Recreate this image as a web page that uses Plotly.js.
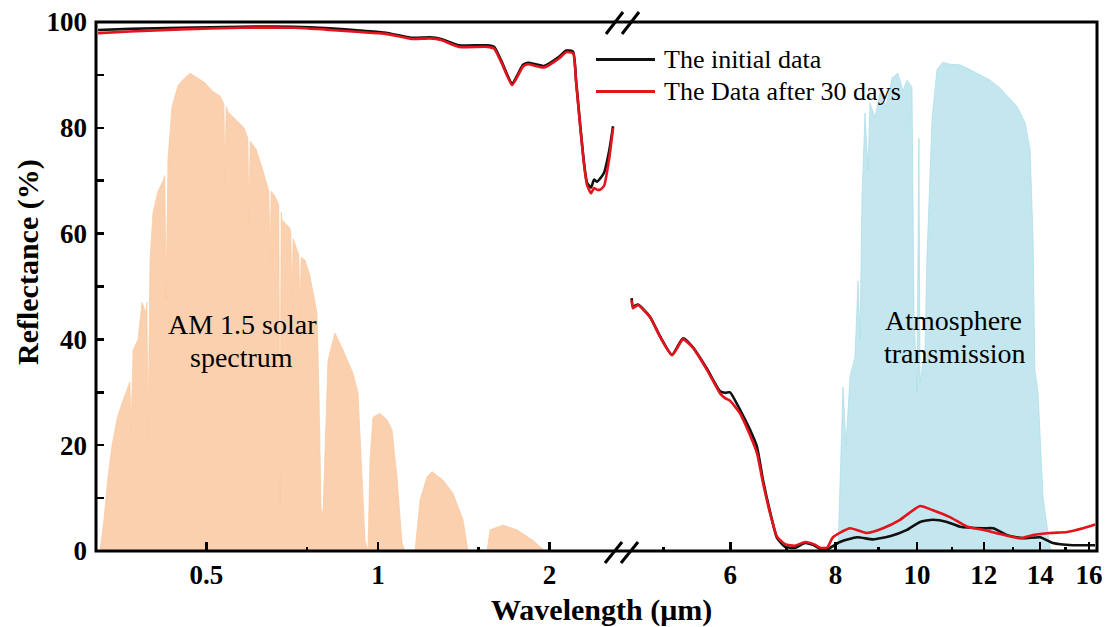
<!DOCTYPE html>
<html>
<head>
<meta charset="utf-8">
<script src="https://cdn.plot.ly/plotly-3.0.1.min.js"></script>
<style>
  html, body { margin: 0; padding: 0; background: #ffffff; }
  #chart { width: 1118px; height: 627px; }
</style>
</head>
<body>
<div id="chart"></div>
<script>
// ---------- Data ----------
// AM 1.5 solar spectrum (normalised, drawn on the short-wave log axis)
const solarWl = [0.3253,0.3306,0.3360,0.3415,0.3485,0.3556,0.3643,0.3670,0.3688,0.3706,0.3718,0.3793,0.3855,0.3918,0.3931,0.3950,0.3969,0.3981,0.4030,0.4112,0.4196,0.4226,0.4247,0.4268,0.4281,0.4351,0.4458,0.4586,0.4679,0.4814,0.4972,0.5114,0.5283,0.5365,0.5390,0.5416,0.5456,0.5635,0.5820,0.5911,0.5939,0.5967,0.6109,0.6259,0.6413,0.6434,0.6465,0.6496,0.6596,0.6698,0.6730,0.6763,0.6785,0.7007,0.7030,0.7064,0.7098,0.7208,0.7262,0.7296,0.7331,0.7445,0.7597,0.7690,0.7815,0.7878,0.7943,0.8008,0.8073,0.8171,0.8405,0.8681,0.9040,0.9224,0.9375,0.9488,0.9604,0.9682,0.9800,1.0081,1.0370,1.0582,1.0798,1.1018,1.1152,1.1612,1.1850,1.2189,1.2438,1.3003,1.3539,1.4097,1.4384,1.5535,1.5724,1.6241,1.6573,1.7537,1.8704,1.9634];
const solarVal = [0,6,14,20,25,28,31,32,23,33,38,40,47,45,47,21.5,50,55,64,68,70,71,47.4,72,74,84,88,89.5,90.3,89.5,88.5,87,86,84.5,70,84,83,81.5,80,78,62,77.5,76,72.5,68.5,68,55,68,67,65.5,8.3,64,62.6,61,60,48,59,57,56,44,55.5,55,52,49,45,30,8,7,20,36,41.2,38,33.6,29.9,14,2,0,17.2,25.3,26,24.8,22.9,14,1.5,0,0,9.6,14,15,13.4,10.9,5.9,0,0,4,4.5,4.9,4,2,0];

// Atmospheric transmission (drawn on the long-wave log axis)
const atmWl = [8.054,8.166,8.234,8.324,8.438,8.508,8.555,8.602,8.673,8.745,8.79,8.913,9.035,9.184,9.337,9.49,9.622,9.727,9.861,9.915,9.996,10.05,10.08,10.22,10.27,10.42,10.56,10.73,10.94,11.25,11.556,11.877,12.21,12.548,12.895,13.15,13.44,13.62,13.73,13.8,13.92,14.11,14.38,14.46];
const atmVal = [0,31,20,33,36.7,51,40,67,82.8,72,84.7,82,86.6,84,89.4,90.3,87,89,87.7,45,30,78,32,38,55,82,91,92.4,92,91.9,91,90,89,87.5,85.5,84,80.9,75.8,59.4,34.2,30,10.2,0.8,0];

// Reflectance, UV-Vis-NIR part
const visWl = [0.3228,0.3673,0.4493,0.575,0.7122,0.8237,0.9298,1.0245,1.0973,1.1471,1.2337,1.2897,1.3873,1.5535,1.5982,1.6439,1.719,1.7966,1.8333,1.9557,2.0776,2.1374,2.1988,2.2258,2.2621,2.2989,2.3267,2.3645,2.3932,2.4226,2.4523,2.4922,2.5431,2.5845];
const visInitial = [98.5,98.7,98.9,99.1,99.1,98.8,98.4,98.0,97.4,97.0,97.1,96.8,95.6,95.6,95.3,92.8,88.4,91.9,92.3,91.7,93.4,94.6,94.4,89.0,80.8,73.3,69.6,68.7,70.2,69.8,70.4,71.5,75.5,80.3];
const visAfter30 = [97.9,98.2,98.6,98.9,98.9,98.5,98.1,97.8,97.2,96.8,96.9,96.6,95.3,95.3,95.0,92.5,88.1,91.6,92.0,91.4,93.1,94.3,94.1,88.7,80.5,73.0,69.2,67.6,68.6,68.3,68.3,69.0,74.0,80.0];

// Reflectance, mid-IR part
const irWlInitial = [4.581,4.598,4.661,4.817,4.951,5.116,5.272,5.418,5.631,5.834,5.915,5.995,6.162,6.333,6.454,6.561,6.687,6.817,6.967,7.161,7.362,7.561,7.666,7.816,8.097,8.484,8.865,9.285,9.727,10.08,10.44,10.85,11.25,11.97,12.31,12.79,13.36,14.0,14.5,15.31,16.27];
const irInitial = [47.8,46.2,46.6,44.3,40.6,37.1,40.2,38.5,34.4,30.2,29.9,30.0,26.7,22.9,19.7,13.4,7.5,2.5,0.8,0.6,1.5,1.0,0.4,0.3,1.7,2.6,2.2,2.8,4.0,5.5,5.9,5.5,4.6,4.3,4.3,3.0,2.4,2.6,1.5,1.1,1.1];
const irWlAfter30 = [4.581,4.598,4.661,4.817,4.951,5.116,5.272,5.418,5.631,5.834,5.915,5.995,6.162,6.333,6.454,6.561,6.687,6.817,6.967,7.161,7.362,7.561,7.666,7.816,7.945,8.324,8.72,9.109,9.543,10.08,10.44,10.94,11.47,11.97,12.55,13.25,13.73,14.38,15.07,15.74,16.27];
const irAfter30 = [47.4,45.9,46.5,44.2,40.5,37.0,40.0,38.4,34.2,29.8,28.9,28.4,26.0,21.9,18.5,12.9,7.2,2.7,1.3,1.0,1.7,1.2,0.6,0.6,2.6,4.3,3.4,4.3,5.9,8.5,7.7,6.4,4.6,4.0,3.2,2.4,3.0,3.4,3.6,4.3,5.0];

// Tick labels
const yTicks = [0,20,40,60,80,100];
const yMinor = [10,30,50,70,90];
const xLeftTicks = [0.5,1,2];
const xLeftTickText = ['0.5','1','2'];
const xLeftMinor = [0.75,1.5];
const xRightTicks = [6,8,10,12,14,16];
const xRightTickText = ['6','8','10','12','14','16'];
const xRightMinor = [5,7,9,11,13,15];

const seriesNames = ['The initial data', 'The Data after 30 days'];

// ---------- Styling ----------
const SERIF = 'Liberation Serif, Times New Roman, serif';
const BLACK = '#111111';
const RED = '#e3141b';

const traces = [
  {x: solarWl, y: solarVal, xaxis: 'x', yaxis: 'y', type: 'scatter', mode: 'lines',
   fill: 'tozeroy', fillcolor: 'rgba(249,192,146,0.74)',
   line: {color: 'rgba(250,200,160,0.9)', width: 0.8}, hoverinfo: 'skip', showlegend: false},
  {x: atmWl, y: atmVal, xaxis: 'x2', yaxis: 'y', type: 'scatter', mode: 'lines',
   fill: 'tozeroy', fillcolor: 'rgba(166,218,230,0.66)',
   line: {color: 'rgba(170,220,232,0.9)', width: 0.8}, hoverinfo: 'skip', showlegend: false},
  {x: visWl, y: visInitial, xaxis: 'x', yaxis: 'y', type: 'scatter', mode: 'lines',
   name: seriesNames[0], line: {color: BLACK, width: 2.6, shape: 'spline', smoothing: 0.5}, showlegend: false},
  {x: irWlInitial, y: irInitial, xaxis: 'x2', yaxis: 'y', type: 'scatter', mode: 'lines',
   name: seriesNames[0], line: {color: BLACK, width: 2.6, shape: 'spline', smoothing: 0.5}, showlegend: false},
  {x: visWl, y: visAfter30, xaxis: 'x', yaxis: 'y', type: 'scatter', mode: 'lines',
   name: seriesNames[1], line: {color: RED, width: 2.6, shape: 'spline', smoothing: 0.5}, showlegend: false},
  {x: irWlAfter30, y: irAfter30, xaxis: 'x2', yaxis: 'y', type: 'scatter', mode: 'lines',
   name: seriesNames[1], line: {color: RED, width: 2.6, shape: 'spline', smoothing: 0.5}, showlegend: false}
];

const W = 1118, H = 627;
const L = 96, R = 21, T = 22, B = 76;
const pw = W - L - R, ph = H - T - B;
const px = v => (v - L) / pw;          // pixel -> paper x
const py = v => (H - B - v) / ph;      // pixel -> paper y
const split = px(622);

const tickFont = {family: SERIF, size: 27, color: '#000', weight: 'bold'};

const commonX = {
  type: 'log', anchor: 'y', showline: false, showgrid: false, zeroline: false,
  ticks: 'inside', ticklen: 9, tickwidth: 2.5, tickcolor: '#000',
  tickmode: 'array', tickfont: tickFont, ticklabelstandoff: 5
};

const layout = {
  width: W, height: H,
  margin: {l: L, r: R, t: T, b: B, pad: 0},
  paper_bgcolor: '#ffffff', plot_bgcolor: '#ffffff',
  showlegend: false,
  xaxis: Object.assign({}, commonX, {
    domain: [0, split], range: [-0.49474, 0.42807],
    tickvals: xLeftTicks, ticktext: xLeftTickText,
    minor: {tickmode: 'array', tickvals: xLeftMinor, ticks: 'inside', ticklen: 4, tickwidth: 2.5, tickcolor: '#000'}
  }),
  xaxis2: Object.assign({}, commonX, {
    domain: [split, 1], range: [0.64952, 1.21366],
    tickvals: xRightTicks, ticktext: xRightTickText,
    minor: {tickmode: 'array', tickvals: xRightMinor, ticks: 'inside', ticklen: 4, tickwidth: 2.5, tickcolor: '#000'}
  }),
  yaxis: {
    range: [0, 100], anchor: 'x', showline: false, showgrid: false, zeroline: false,
    tickmode: 'array', tickvals: yTicks, ticks: 'inside', ticklen: 8, tickwidth: 2.5, tickcolor: '#000',
    minor: {tickmode: 'array', tickvals: yMinor, ticks: 'inside', ticklen: 8, tickwidth: 2.5, tickcolor: '#000'},
    tickfont: tickFont, ticklabelstandoff: 8
  },
  shapes: [
    // frame
    {type: 'rect', xref: 'paper', yref: 'paper', x0: 0, x1: 1, y0: 0, y1: 1,
     line: {color: '#000', width: 3}, layer: 'above'},
    // axis break marks (bottom)
    {type: 'line', xref: 'paper', yref: 'paper', x0: px(605), y0: py(563), x1: px(622), y1: py(542), line: {color: '#000', width: 3}},
    {type: 'line', xref: 'paper', yref: 'paper', x0: px(621), y0: py(563), x1: px(638), y1: py(542), line: {color: '#000', width: 3}},
    // axis break marks (top)
    {type: 'line', xref: 'paper', yref: 'paper', x0: px(606), y0: py(34), x1: px(623), y1: py(12), line: {color: '#000', width: 3}},
    {type: 'line', xref: 'paper', yref: 'paper', x0: px(622), y0: py(34), x1: px(639), y1: py(12), line: {color: '#000', width: 3}},
    // legend lines
    {type: 'line', xref: 'paper', yref: 'paper', x0: px(596), x1: px(655), y0: py(59.5), y1: py(59.5), line: {color: BLACK, width: 3}},
    {type: 'line', xref: 'paper', yref: 'paper', x0: px(596), x1: px(655), y0: py(91.5), y1: py(91.5), line: {color: RED, width: 3}}
  ],
  annotations: [
    {xref: 'paper', yref: 'paper', x: px(662), y: py(59), xanchor: 'left', yanchor: 'middle',
     text: seriesNames[0], showarrow: false, font: {family: SERIF, size: 26, color: '#000'}},
    {xref: 'paper', yref: 'paper', x: px(662), y: py(91), xanchor: 'left', yanchor: 'middle',
     text: seriesNames[1], showarrow: false, font: {family: SERIF, size: 26, color: '#000'}},
    {xref: 'paper', yref: 'paper', x: px(242), y: py(325), xanchor: 'center', yanchor: 'middle',
     text: 'AM 1.5 solar', showarrow: false, font: {family: SERIF, size: 28, color: '#000'}},
    {xref: 'paper', yref: 'paper', x: px(241), y: py(357), xanchor: 'center', yanchor: 'middle',
     text: 'spectrum', showarrow: false, font: {family: SERIF, size: 28, color: '#000'}},
    {xref: 'paper', yref: 'paper', x: px(953), y: py(320), xanchor: 'center', yanchor: 'middle',
     text: 'Atmosphere', showarrow: false, font: {family: SERIF, size: 28, color: '#000'}},
    {xref: 'paper', yref: 'paper', x: px(955), y: py(353), xanchor: 'center', yanchor: 'middle',
     text: 'transmission', showarrow: false, font: {family: SERIF, size: 28, color: '#000'}},
    // axis titles
    {xref: 'paper', yref: 'paper', x: px(601), y: py(610), xanchor: 'center', yanchor: 'middle',
     text: '<b>Wavelength (μm)</b>', showarrow: false, font: {family: SERIF, size: 30, color: '#000'}},
    {xref: 'paper', yref: 'paper', x: px(28), y: py(262), xanchor: 'center', yanchor: 'middle', textangle: -90,
     text: '<b>Reflectance (%)</b>', showarrow: false, font: {family: SERIF, size: 30, color: '#000'}}
  ]
};

Plotly.newPlot('chart', traces, layout, {staticPlot: true, displayModeBar: false});
</script>
</body>
</html>
